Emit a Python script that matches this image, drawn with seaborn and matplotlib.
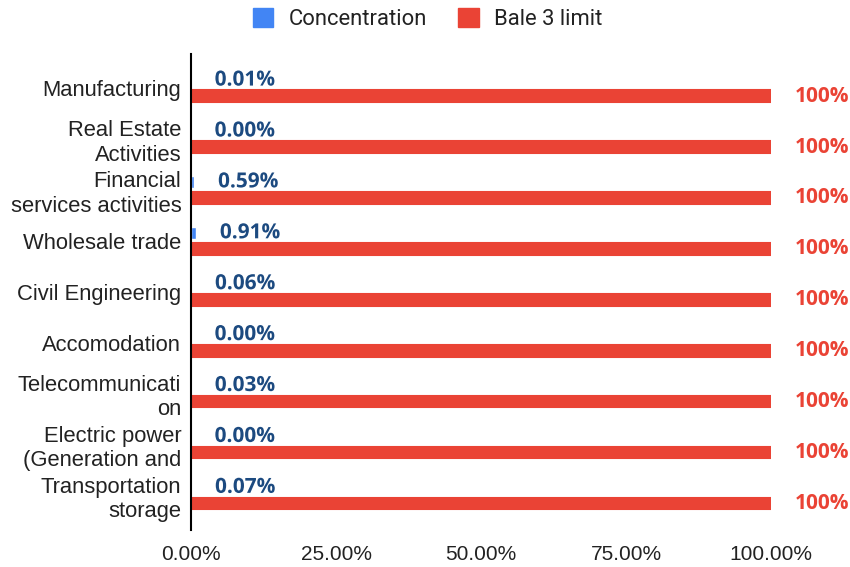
import pandas as pd
import matplotlib
matplotlib.use("Agg")
import matplotlib.pyplot as plt
import matplotlib.patheffects as pe
from matplotlib.patches import Patch
from matplotlib.ticker import FuncFormatter
import seaborn as sns


# DATA

sectors = [
    "Manufacturing",
    "Real Estate\nActivities",
    "Financial\nservices activities",
    "Wholesale trade",
    "Civil Engineering",
    "Accomodation",
    "Telecommunicati\non",
    "Electric power\n(Generation and",
    "Transportation\nstorage",
]
concentration = [0.01, 0.00, 0.59, 0.91, 0.06, 0.00, 0.03, 0.00, 0.07]
bale3_limit = [100, 100, 100, 100, 100, 100, 100, 100, 100]
x_ticks = [0, 25, 50, 75, 100]

series_names = ["Concentration", "Bale 3 limit"]
BLUE = "#4285F4"
RED = "#EA4335"

df = pd.DataFrame({
    "Sector": sectors + sectors,
    "Value": concentration + bale3_limit,
    "Series": [series_names[0]] * len(sectors) + [series_names[1]] * len(sectors),
})


# PLOT

sns.set_style("white")
plt.rcParams["font.family"] = ["Liberation Sans", "DejaVu Sans"]

fig = plt.figure(figsize=(8.5, 5.67), dpi=100)
ax = fig.add_axes([0.2247, 0.0653, 0.6824, 0.8395])

sns.barplot(
    data=df,
    y="Sector",
    x="Value",
    hue="Series",
    hue_order=series_names,
    palette=[BLUE, RED],
    saturation=1,
    orient="h",
    width=0.63,
    gap=0.27,
    legend=False,
    ax=ax,
)

# rounded look for the red bars
for patch in ax.containers[1]:
    patch.set_edgecolor(RED)
    patch.set_linewidth(1.5)
    patch.set_joinstyle("round")

# value labels
blue_txt = ax.bar_label(
    ax.containers[0],
    labels=[f"{v:.2f}%" for v in concentration],
    padding=17,
    color="#1C4A80",
    fontsize=15,
    fontweight="bold",
    family="Open Sans",
)
for t in blue_txt:
    t.set_path_effects([pe.withStroke(linewidth=3, foreground="white")])

ax.bar_label(
    ax.containers[1],
    labels=[f"{v:.0f}%" for v in bale3_limit],
    padding=17,
    color=RED,
    fontsize=15,
    fontweight="bold",
    family="Open Sans",
)

# axes
ax.set_xlim(0, 100)
ax.set_ylim(8.68, -0.67)
ax.set_xticks(x_ticks)
ax.xaxis.set_major_formatter(FuncFormatter(lambda v, p: f"{v:.2f}%"))
ax.set_xlabel("")
ax.set_ylabel("")
ax.tick_params(axis="both", length=0, colors="#222222")
ax.tick_params(axis="x", pad=10.5, labelsize=15)
ax.tick_params(axis="y", pad=7, labelsize=15.8)

sns.despine(ax=ax, left=False, bottom=True)
ax.spines["left"].set_color("black")
ax.spines["left"].set_linewidth(1.5)

# legend
handles = [Patch(facecolor=BLUE, edgecolor=BLUE, joinstyle="round", label=series_names[0]),
           Patch(facecolor=RED, edgecolor=RED, joinstyle="round", label=series_names[1])]
fig.legend(
    handles=handles,
    loc="center",
    bbox_to_anchor=(0.503, 0.967),
    ncol=2,
    frameon=False,
    handlelength=0.95,
    handleheight=0.95,
    handletextpad=0.7,
    columnspacing=1.4,
    prop={"family": "Roboto", "size": 15.8},
    labelcolor="#222222",
)

fig.savefig("out.png", dpi=100)
